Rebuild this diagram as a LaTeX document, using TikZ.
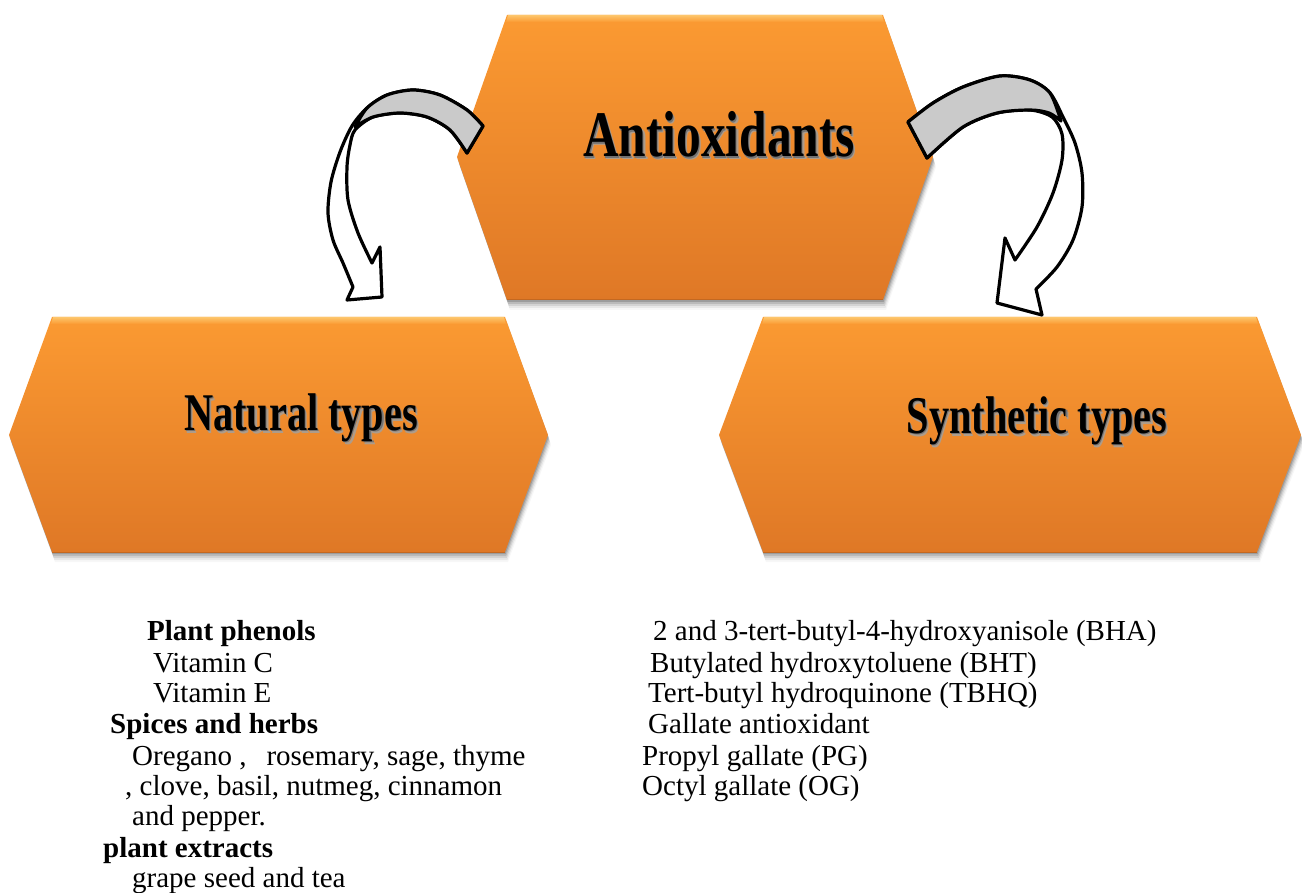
\documentclass[tikz,border=0pt]{standalone}
\usepackage{fontspec}
\setmainfont{Liberation Serif}
\usepackage{graphicx}
\definecolor{hexTop}{RGB}{251,154,50}
\definecolor{hexBot}{RGB}{223,120,38}
\definecolor{hexHi}{RGB}{253,198,108}
\definecolor{hexEdge}{RGB}{196,104,32}
\definecolor{arrGray}{RGB}{202,202,202}
\definecolor{txtShadow}{RGB}{120,90,60}
% hexagon path: x1, x2, ytop, ybot, ymid, indent
\newcommand\hexpts[6]{(#1,#5) -- ({#1+#6},#3) -- ({#2-#6},#3) -- (#2,#5) -- ({#2-#6},#4) -- ({#1+#6},#4) -- cycle}
\newcommand\orangehex[6]{%
  \foreach \s/\o in {2/0.16,4/0.12,6/0.09,8/0.06,10/0.03}{%
    \fill[black,opacity=\o,shift={(0.3*\s,\s)}] \hexpts{#1}{#2}{#3}{#4}{#5}{#6};}
  \shade[top color=hexTop,bottom color=hexBot] \hexpts{#1}{#2}{#3}{#4}{#5}{#6};
  \shade[top color=hexHi,bottom color=hexTop] ({#1+#6+1},{#3}) -- ({#2-#6-1},{#3}) -- ({#2-#6+1},{#3+7}) -- ({#1+#6-1},{#3+7}) -- cycle;
  \draw[hexEdge,line width=1pt] ({#1+#6},{#4}) -- ({#2-#6},{#4});
}
% bold condensed label with a soft shadow, set in one node
\newcommand\shadowtext[2]{%
  \scalebox{0.76}[1]{\fontsize{#1}{#1}\selectfont\bfseries
    \makebox[0pt][l]{\kern3pt\raisebox{-3pt}{\textcolor{txtShadow!60}{#2}}}%
    \makebox[0pt][l]{\kern1.5pt\raisebox{-1.5pt}{\textcolor{black!55}{#2}}}%
    #2}}
\begin{document}
\begin{tikzpicture}[x=1pt,y=-1pt,
  hexlab/.style={anchor=base,inner sep=0pt},
  listtxt/.style={anchor=base west,inner sep=0pt,font=\fontsize{29}{31}\selectfont},
  listbold/.style={listtxt,font=\fontsize{29}{31}\selectfont\bfseries},
  arrowline/.style={draw=black,line width=3.2pt,line join=round}]
\useasboundingbox (0,0) rectangle (1302,893);

% hexagons
\orangehex{457}{933}{15}{300}{157}{50}
\orangehex{9}{548}{317}{552}{435}{43}
\orangehex{719}{1301}{317}{552}{435}{44}

\node[hexlab] (anti) at (719,157) {\shadowtext{65}{Antioxidants}};
\node[hexlab] (nat)  at (301,430) {\shadowtext{53}{Natural types}};
\node[hexlab] (syn)  at (1037,433) {\shadowtext{53}{Synthetic types}};

% left curved arrow
\filldraw[arrowline,fill=white]
  plot[smooth] coordinates {(483,126) (467,110) (440,95) (413,90) (387,95) (367,108) (352,126) (340,152) (331,182) (328,213) (333,240) (343,263) (353,287)}
  -- (347,300) -- (382,297) -- (380,247)
  -- plot[smooth] coordinates {(372,263) (358,233) (348,200) (347,167) (350,145) (355,130) (373,117) (400,113) (427,117) (450,130) (467,153)}
  -- cycle;
\filldraw[arrowline,fill=arrGray]
  plot[smooth] coordinates {(483,126) (467,110) (440,95) (413,90) (387,95) (367,108) (355,127)}
  -- plot[smooth] coordinates {(355,127) (373,117) (400,113) (427,117) (450,130) (467,153)}
  -- cycle;

% right curved arrow
\filldraw[arrowline,fill=white]
  plot[smooth] coordinates {(908,122) (933,103) (963,87) (1000,76) (1030,80) (1050,93) (1063,117) (1075,143) (1082,173) (1082,207) (1073,240) (1057,267) (1036,289)}
  -- (1042,315) -- (997,303) -- (1005,238)
  -- plot[smooth] coordinates {(1015,260) (1037,227) (1053,193) (1062,160) (1062,134) (1052,117) (1030,110) (997,113) (963,127) (927,158)}
  -- cycle;
\filldraw[arrowline,fill=arrGray]
  plot[smooth] coordinates {(908,122) (933,103) (963,87) (1000,76) (1030,80) (1050,93) (1061,121)}
  -- plot[smooth] coordinates {(1061,121) (1049,113) (1030,110) (997,113) (963,127) (927,158)}
  -- cycle;

% natural list
\node[listbold] (n1) at (147,640) {Plant phenols};
\node[listtxt]  (n2) at (153,672) {Vitamin C};
\node[listtxt]  (n3) at (153,702) {Vitamin E};
\node[listbold] (n4) at (110,733) {Spices and herbs};
\node[listtxt]  (n5) at (132,765) {Oregano ,\hspace{20pt}rosemary, sage, thyme};
\node[listtxt]  (n6) at (125,795) {, clove, basil, nutmeg, cinnamon};
\node[listtxt]  (n7) at (132,825) {and pepper.};
\node[listbold] (n8) at (103,857) {plant extracts};
\node[listtxt]  (n9) at (132,887) {grape seed and tea};

% synthetic list
\node[listtxt] (s1) at (653,640) {2 and 3-tert-butyl-4-hydroxyanisole (BHA)};
\node[listtxt] (s2) at (650,672) {Butylated hydroxytoluene (BHT)};
\node[listtxt] (s3) at (648,702) {Tert-butyl hydroquinone (TBHQ)};
\node[listtxt] (s4) at (648,733) {Gallate antioxidant};
\node[listtxt] (s5) at (642,765) {Propyl gallate (PG)};
\node[listtxt] (s6) at (642,795) {Octyl gallate (OG)};
\end{tikzpicture}
\end{document}
